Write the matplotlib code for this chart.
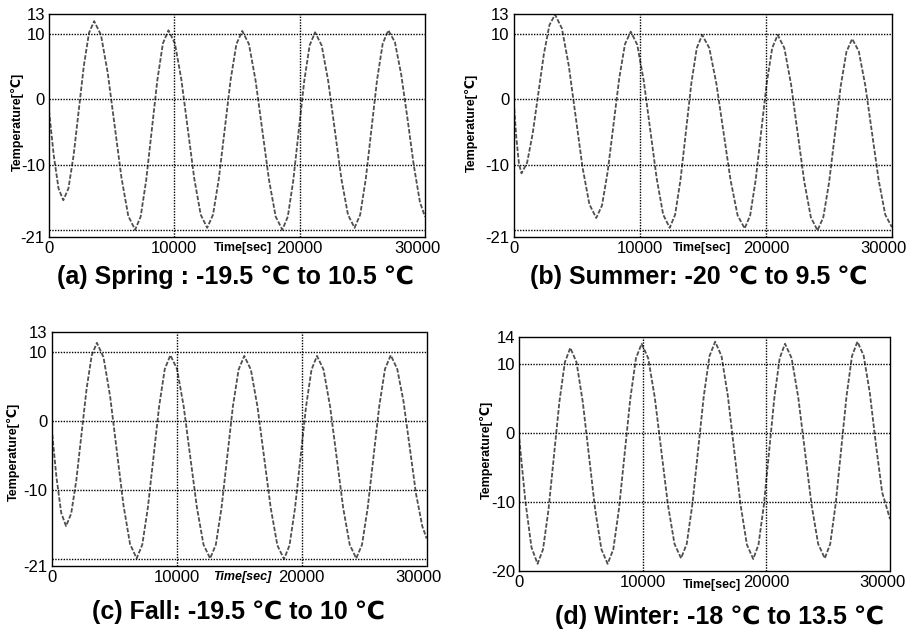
import matplotlib
matplotlib.use('Agg')
import matplotlib.pyplot as plt
import matplotlib.transforms as mtransforms

plt.rcParams['font.family'] = ['Liberation Sans', 'DejaVu Sans']

# curves (time in s, temperature in deg C)
t_a = [0, 380, 760, 1140, 1550, 1960, 2370, 2780, 3190, 3600, 4145, 4690, 5235, 5780, 6325, 6870,
       7313, 7757, 8200, 8643, 9087, 9530, 10045, 10560, 11075, 11590, 12105, 12620, 13087, 13553,
       14020, 14487, 14953, 15420, 15953, 16487, 17020, 17553, 18087, 18620, 19055, 19490, 19925,
       20360, 20795, 21230, 21755, 22280, 22805, 23330, 23855, 24380, 24830, 25280, 25730, 26180,
       26630, 27080, 27600, 28100, 28600, 29100, 29600, 30000]
v_a = [-1.75, -8.6, -13.6, -15.4, -13.6, -8.6, -1.75, 5.1, 10.1, 11.9, 9.8, 3.95, -4.0, -11.95, -17.8,
       -19.9, -17.9, -12.3, -4.7, 2.9, 8.5, 10.5, 8.5, 3.0, -4.55, -12.1, -17.6, -19.6, -17.6, -12.1,
       -4.6, 2.9, 8.4, 10.4, 8.4, 2.8, -4.75, -12.3, -17.9, -19.9, -17.9, -12.4, -4.85, 2.7, 8.2, 10.2,
       8.2, 2.75, -4.7, -12.15, -17.6, -19.6, -17.6, -12.1, -4.55, 3.0, 8.5, 10.5, 8.7, 3.8, -2.9,
       -10.0, -15.7, -17.9]

t_b = [0, 200, 410, 610, 1053, 1497, 1940, 2383, 2827, 3270, 3815, 4360, 4905, 5450, 5995, 6540,
       6997, 7453, 7910, 8367, 8823, 9280, 9795, 10310, 10825, 11340, 11855, 12370, 12800, 13230,
       13660, 14090, 14520, 14950, 15512, 16073, 16635, 17197, 17758, 18320, 18757, 19193, 19630,
       20067, 20503, 20940, 21467, 21993, 22520, 23047, 23573, 24100, 24558, 25017, 25475, 25933,
       26392, 26850, 27375, 27900, 28425, 28950, 29475, 30000]
v_b = [-0.5, -5.9, -9.85, -11.3, -9.7, -5.25, 0.8, 6.85, 11.3, 12.9, 10.8, 5.15, -2.6, -10.35, -16.0,
       -18.1, -16.2, -11.0, -3.9, 3.2, 8.4, 10.3, 8.3, 2.8, -4.65, -12.1, -17.6, -19.6, -17.6, -12.25,
       -4.9, 2.45, 7.8, 9.8, 7.8, 2.4, -4.95, -12.3, -17.7, -19.7, -17.7, -12.3, -4.95, 2.4, 7.8, 9.8,
       7.8, 2.35, -5.1, -12.55, -18.0, -20.0, -18.0, -12.7, -5.4, 1.9, 7.2, 9.2, 7.3, 2.0, -5.15,
       -12.3, -17.6, -19.5]

t_c = [0, 383, 767, 1150, 1562, 1973, 2385, 2797, 3208, 3620, 4150, 4680, 5210, 5740, 6270, 6800,
       7250, 7700, 8150, 8600, 9050, 9500, 10030, 10560, 11090, 11620, 12150, 12680, 13135, 13590,
       14045, 14500, 14955, 15410, 15940, 16470, 17000, 17530, 18060, 18590, 19030, 19470, 19910,
       20350, 20790, 21230, 21753, 22277, 22800, 23323, 23847, 24370, 24830, 25290, 25750, 26210,
       26670, 27130, 27650, 28150, 28650, 29150, 29650, 30000]
v_c = [-1.0, -8.1, -13.3, -15.2, -13.4, -8.55, -1.9, 4.75, 9.6, 11.4, 9.3, 3.6, -4.25, -12.1, -17.8,
       -19.9, -17.9, -12.5, -5.15, 2.2, 7.6, 9.6, 7.6, 2.2, -5.15, -12.5, -17.9, -19.9, -17.9, -12.55,
       -5.2, 2.15, 7.5, 9.5, 7.5, 2.1, -5.25, -12.6, -18.0, -20.0, -18.0, -12.6, -5.25, 2.1, 7.5, 9.5,
       7.5, 2.15, -5.2, -12.55, -17.9, -19.9, -17.9, -12.5, -5.15, 2.2, 7.6, 9.6, 7.6, 2.9, -3.8,
       -10.5, -15.2, -17.0]

t_d = [0, 493, 987, 1480, 1922, 2363, 2805, 3247, 3688, 4130, 4633, 5137, 5640, 6143, 6647, 7150,
       7608, 8067, 8525, 8983, 9442, 9900, 10432, 10963, 11495, 12027, 12558, 13090, 13550, 14010,
       14470, 14930, 15390, 15850, 16363, 16877, 17390, 17903, 18417, 18930, 19358, 19787, 20215,
       20643, 21072, 21500, 22037, 22573, 23110, 23647, 24183, 24720, 25160, 25600, 26040, 26480,
       26920, 27360, 27860, 28360, 28860, 29360, 30000]
v_d = [-0.8, -9.9, -16.6, -19.0, -16.9, -11.15, -3.3, 4.55, 10.3, 12.4, 10.3, 4.55, -3.3, -11.15, -16.9,
       -19.0, -16.9, -11.0, -3.0, 5.0, 10.9, 13.0, 10.9, 5.2, -2.6, -10.4, -16.1, -18.2, -16.1, -10.3,
       -2.45, 5.4, 11.2, 13.3, 11.2, 5.4, -2.5, -10.4, -16.2, -18.3, -16.2, -10.5, -2.65, 5.2, 10.9,
       13.0, 10.9, 5.2, -2.6, -10.4, -16.1, -18.2, -16.1, -10.3, -2.45, 5.4, 11.2, 13.3, 11.3, 5.9,
       -1.7, -8.6, -12.5]

x_ticks = [0, 10000, 20000, 30000]
y_ticks_abc = [-21, -10, 0, 10, 13]
y_ticks_d = [-20, -10, 0, 10, 14]

captions = ['(a) Spring : -19.5 \u2103 to 10.5 \u2103',
            '(b) Summer: -20 \u2103 to 9.5 \u2103',
            '(c) Fall: -19.5 \u2103 to 10 \u2103',
            '(d) Winter: -18 \u2103 to 13.5 \u2103']

fig = plt.figure(figsize=(9.11, 6.32), dpi=100)

panels = [
    # rect, t, v, yticks, extra line, caption xy, time label xy, ylabel xy, italic time
    ([0.0538, 0.625, 0.4127, 0.353], t_a, v_a, y_ticks_abc, -20, (0.259, 0.561), (0.516, -0.05), (-0.085, 0.517), False),
    ([0.564, 0.625, 0.415, 0.353], t_b, v_b, y_ticks_abc, -20, (0.767, 0.562), (0.497, -0.05), (-0.111, 0.51), False),
    ([0.0567, 0.1044, 0.4116, 0.3706], t_c, v_c, y_ticks_abc, -20, (0.262, 0.031), (0.507, -0.046), (-0.103, 0.487), True),
    ([0.570, 0.097, 0.407, 0.370], t_d, v_d, y_ticks_d, None, (0.790, 0.023), (0.521, -0.06), (-0.09, 0.516), False),
]

for i, (rect, t, v, yt, extra, cap_xy, tl_xy, yl_xy, ital) in enumerate(panels):
    ax = fig.add_axes(rect)
    ax.plot(t, v, color='#505050', lw=1.3, ls=(0, (2.5, 1)))
    ax.set_xlim(0, 30000)
    ax.set_ylim(yt[0], yt[-1])
    ax.set_xticks(x_ticks)
    ax.set_xticklabels(['0', '10000', '20000', '30000'], fontsize=12)
    ax.set_yticks(yt)
    ax.set_yticklabels([str(y) for y in yt], fontsize=12)
    ax.tick_params(length=0, pad=3)
    # the last x label sits a little left of its tick, as in the original
    lab = ax.get_xticklabels()[-1]
    lab.set_transform(lab.get_transform() + mtransforms.ScaledTranslation(-8 / 100, 0, fig.dpi_scale_trans))
    for y in [-10, 0, 10]:
        ax.axhline(y, color='black', lw=1.0, ls=(0, (1, 1)))
    if extra is not None:
        ax.axhline(extra, color='black', lw=1.0, ls=(0, (1, 1)))
    for x in [10000, 20000]:
        ax.axvline(x, color='black', lw=1.0, ls=(0, (1, 1)))
    for s in ax.spines.values():
        s.set_linestyle((0, (1, 1)))
        s.set_linewidth(1.0)
    ax.text(tl_xy[0], tl_xy[1], 'Time[sec]', transform=ax.transAxes, ha='center', va='center',
            fontsize=9, fontweight='bold', style='italic' if ital else 'normal')
    ax.text(yl_xy[0], yl_xy[1], 'Temperature[\u2103]', transform=ax.transAxes, ha='center',
            va='center', rotation=90, fontsize=9, fontweight='bold')
    fig.text(cap_xy[0], cap_xy[1], captions[i], ha='center', va='center', fontsize=18,
             fontweight='bold')

plt.savefig('out.png', dpi=100)
